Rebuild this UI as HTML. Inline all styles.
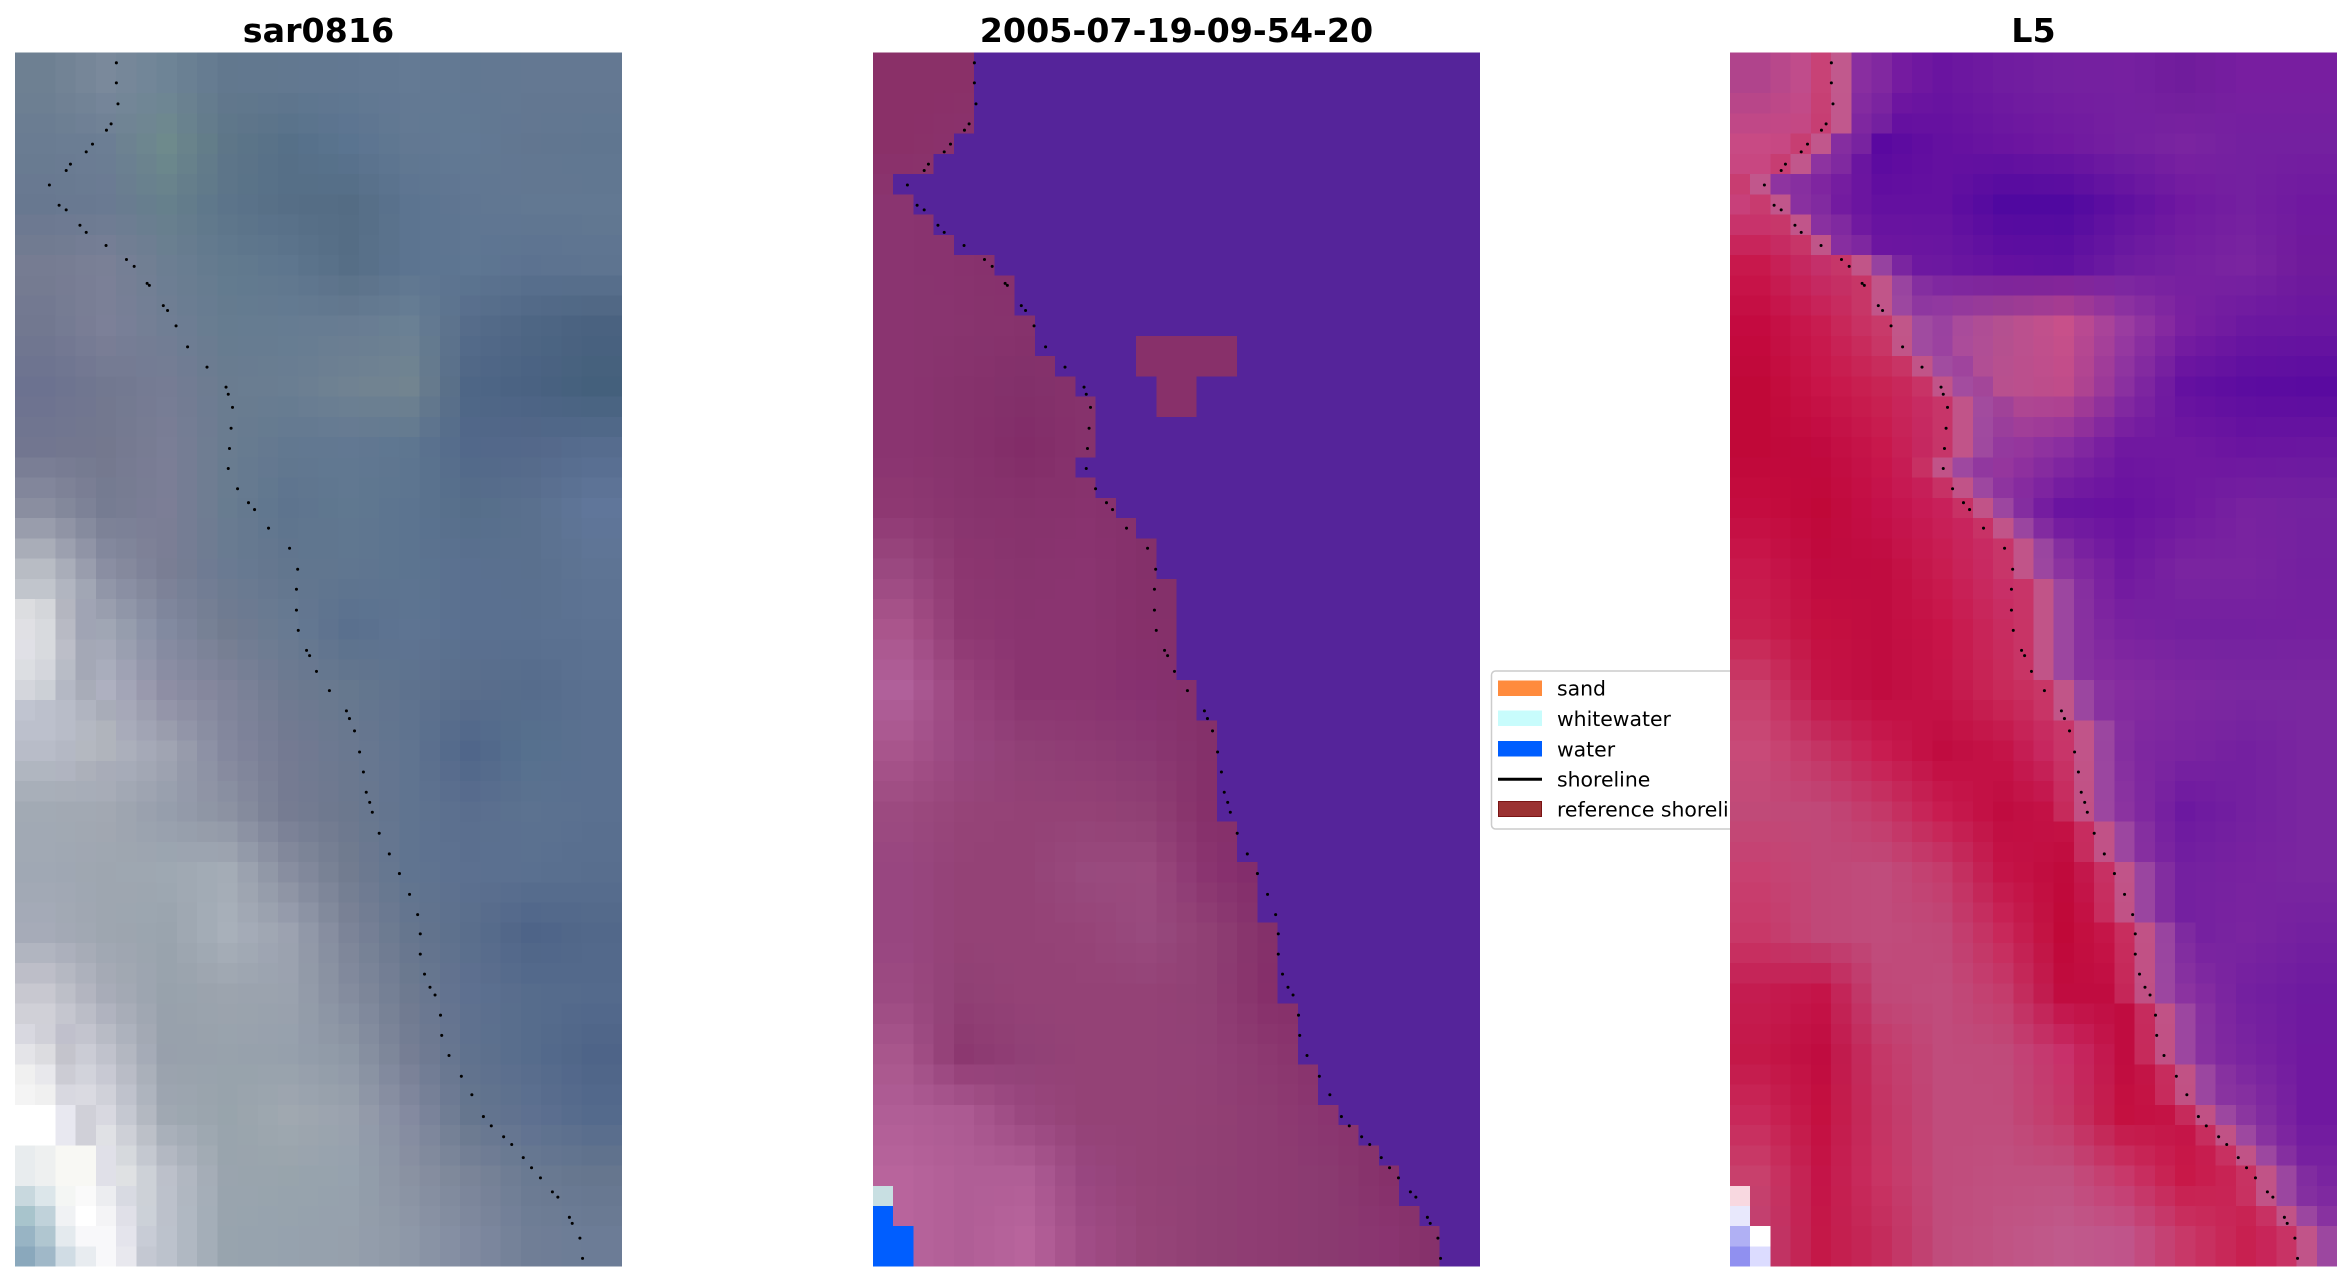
<!DOCTYPE html>
<html><head><meta charset="utf-8">
<style>
html,body{margin:0;padding:0;background:#fff;width:2352px;height:1283px;overflow:hidden}
svg{display:block}
text{font-family:"DejaVu Sans","Liberation Sans",sans-serif;fill:#000}
</style></head>
<body>
<svg id="s" width="2352" height="1283" viewBox="0 0 2352 1283" xmlns="http://www.w3.org/2000/svg">
<rect width="2352" height="1283" fill="#fff"/>
<text x="318.5" y="42" text-anchor="middle" font-size="33.3" font-weight="bold">sar0816</text>
<text x="1176.5" y="42" text-anchor="middle" font-size="33.3" font-weight="bold">2005-07-19-09-54-20</text>
<text x="2033.5" y="42" text-anchor="middle" font-size="33.3" font-weight="bold">L5</text>
<g>
<rect x="1491.5" y="671" width="320" height="158" rx="4" fill="#fff" stroke="#cccccc" stroke-width="1.5"/>
<rect x="1498" y="680.5" width="44" height="15.5" fill="#ff8b3d"/>
<rect x="1498" y="710.5" width="44" height="15.5" fill="#c8fcfc"/>
<rect x="1498" y="741" width="44" height="15.5" fill="#005eff"/>
<line x1="1498" y1="779.3" x2="1542" y2="779.3" stroke="#000" stroke-width="3"/>
<rect x="1498.5" y="801.5" width="43" height="15" fill="#9b3232" stroke="#7a1414" stroke-width="1"/>
<text x="1557" y="695.6" font-size="20.4">sand</text>
<text x="1557" y="726" font-size="20.4">whitewater</text>
<text x="1557" y="756.6" font-size="20.4">water</text>
<text x="1557" y="786.7" font-size="20.4">shoreline</text>
<text x="1557" y="816.7" font-size="20.4">reference shoreline</text>
</g>
<g id="p1" transform="translate(15,52.7) scale(20.2333)" shape-rendering="crispEdges"><rect width="30" height="60" fill="#6e7c92"/></g>
<g id="d1" transform="translate(15,52.7) scale(20.2333)"></g>
<g id="p2" transform="translate(873,52.7) scale(20.2333)" shape-rendering="crispEdges"><rect width="30" height="60" fill="#6a2c84"/></g>
<g id="d2" transform="translate(873,52.7) scale(20.2333)"></g>
<g id="p3" transform="translate(1730,52.7) scale(20.2333)" shape-rendering="crispEdges"><rect width="30" height="60" fill="#a43080"/></g>
<g id="d3" transform="translate(1730,52.7) scale(20.2333)"></g>
</svg>
<script>
(function(){
var NS="http://www.w3.org/2000/svg";
function h2r(h){return [parseInt(h.substr(1,2),16),parseInt(h.substr(3,2),16),parseInt(h.substr(5,2),16)];}
function r2h(a){return '#'+a.map(function(v){v=Math.max(0,Math.min(255,Math.round(v)));return (v<16?'0':'')+v.toString(16);}).join('');}
function mix(a,b,t){return [a[0]+(b[0]-a[0])*t,a[1]+(b[1]-a[1])*t,a[2]+(b[2]-a[2])*t];}
function parseGrid(rows,def){return rows.map(function(r){var a=r.trim().split(/\s+/).map(h2r);while(a.length<10)a.push(h2r(def));return a;});}
function sample(G,c,r){
 var gw=G[0].length,gh=G.length;
 var u=(c+0.5)/(30/gw)-0.5,v=(r+0.5)/(60/gh)-0.5;
 u=Math.max(0,Math.min(gw-1,u));v=Math.max(0,Math.min(gh-1,v));
 var i=Math.min(Math.floor(u),gw-2),j=Math.min(Math.floor(v),gh-2);
 var fu=u-i,fv=v-j,o=[0,0,0];
 for(var k=0;k<3;k++)o[k]=G[j][i][k]*(1-fu)*(1-fv)+G[j][i+1][k]*fu*(1-fv)+G[j+1][i][k]*(1-fu)*fv+G[j+1][i+1][k]*fu*fv;
 return o;
}
function rect(g,c,r,col){var e=document.createElementNS(NS,'rect');e.setAttribute('x',c);e.setAttribute('y',r);e.setAttribute('width',1);e.setAttribute('height',1);e.setAttribute('fill',col);g.appendChild(e);}

var G1=parseGrid([
"#6e8092 #7a899b #6e8496 #62788e #627890 #627892 #647a94 #627892 #647892 #647892",
"#6a7c92 #6c7e94 #6e8a8c #5e7688 #567088 #5a7490 #627892 #627994 #627690 #607690",
"#687890 #6a7a92 #66808c #5c748a #566e86 #546c84 #5c7490 #607692 #627892 #627892",
"#767c92 #7a8096 #6c7e92 #627a8e #5e768e #566e86 #5c7490 #5e7692 #5c7290 #5e7490",
"#727890 #7c8098 #707e94 #667c90 #667c92 #687c92 #6a8094 #566c8a #4e6684 #4a6280",
"#6c7290 #727890 #767c94 #6a7c90 #6a7e92 #708292 #728490 #4e6686 #4a6282 #44607c",
"#727690 #74788e #7a7e96 #6a7c90 #627890 #627892 #5e7690 #52688a #54688a #566c8e",
"#8a8ea0 #767c92 #7c7e96 #687c90 #5e748e #607890 #5c7490 #566e8a #5a708e #60769a",
"#b8bcc4 #8a8ea2 #7a7e94 #6a7a92 #62768e #607690 #5c7490 #5a7090 #5a708e #5e7494",
"#d4d6dc #a0a6b4 #828aa0 #727c90 #687a92 #5a708e #5e7492 #5a7090 #5a7090 #5c7292",
"#ccd0d8 #aeb0c0 #8e8ea4 #80849a #6e7a90 #66788e #5e728e #5a6e8c #566c8c #5a7090",
"#b4b8c4 #b0b4c0 #a0a4b2 #84889e #747a92 #6a7890 #607490 #50668a #56708e #5a7090",
"#a2aab4 #a2a8b2 #969eac #8c92a2 #767c92 #6c788e #607490 #5a6e8e #5c7290 #5a7090",
"#a0a8b4 #9ea6b0 #9ea8b2 #a4acb6 #888ea0 #727c90 #607490 #5c7090 #5a7090 #586e8e",
"#a6abb8 #9ea6b0 #9aa4ae #a8b0ba #9ca2b0 #7c8498 #66768e #5a6e8c #4e6488 #52688a",
"#c8c8d0 #a8acb8 #98a2ac #9ca4ae #9aa2ae #848c9e #6e7a90 #5e7090 #566c8c #546a8c",
"#e0e0e6 #c0c2cc #98a0ac #98a2ac #96a0ac #8e98a6 #767e94 #60728e #566c8c #4e6488",
"#f4f4f6 #d8d8e0 #a0a8b2 #98a4ac #a0a8b0 #9aa2ae #848aa0 #66768e #5e7090 #546a8c",
"#e4eaee #f0f2f0 #bcc0ca #9aa4ae #98a4ac #96a2ae #8a92a2 #7a8498 #6a7a92 #66768e",
"#b0c4d0 #eceff2 #bcc2cc #98a4ae #96a2ae #96a0ac #8e98a8 #808aa0 #707e96 #6c7c96"
],"#647892");

var G2=parseGrid([
"#8a3068 #8a3068 #88306a #88306a",
"#8a3068 #8a326c #86306a #86306a",
"#8a3470 #88326e #86306a #86306a",
"#8a3470 #88326e #86306c #84306a",
"#8a3470 #88346e #86326c #86306a #84306a",
"#8a3470 #86326c #82306a #86326c #82306a",
"#8a3470 #86326c #822c68 #86326c #84306a",
"#8e3872 #88346e #86326c #88326e #84306a",
"#9a4880 #8c3670 #88346e #8a3470 #84306a #82306a",
"#aa558c #8e3872 #8a3470 #8a3470 #86306a #82306a",
"#b0609a #98427c #8a3470 #8a3470 #863070 #84306a",
"#a8558c #984680 #904076 #8e3c74 #8a3872 #84306a",
"#9c4a80 #964478 #944276 #944276 #904074 #86306a",
"#984680 #944276 #944276 #984a7e #9a4a7e #8a3470 #80296a",
"#984680 #944276 #944276 #964478 #984a7e #904074 #84306a",
"#9c4a82 #904074 #944276 #944276 #944276 #904074 #862f6a",
"#a8568c #8c3870 #904076 #944276 #944276 #924076 #8c3870 #86306a",
"#b05e96 #ac5a92 #9a4880 #944276 #944276 #924074 #8e3c72 #8a3470 #86306a",
"#b8649c #b05e96 #b05e96 #984680 #944276 #904074 #8e3c72 #8a3a70 #86306a #843068",
"#b8649c #b05e96 #b8649c #a04c86 #964478 #904074 #8e3c72 #8a3a70 #8a3470 #843068"
],"#86306a");

var G3L=parseGrid([
"#b0448c #c8508a #c05088",
"#c84a84 #c44480 #c04c86",
"#c8407a #c0407a #c04478",
"#c8184c #c4306a #c43868",
"#c40a40 #c81c50 #c83c6c #c83c6c",
"#c00838 #c81448 #c82454 #c8306a",
"#c00838 #c00a40 #c8184c #c4306a #c8306a",
"#c40c40 #c00838 #c4104a #c8205a #c8306a",
"#c8184c #c00a40 #c00c40 #c81c50 #c8306a",
"#c82050 #c41040 #c00c40 #c81448 #c82c60 #c8306a",
"#c8406c #c41448 #c00c40 #c41448 #c82a5a #c83868",
"#c84a78 #c43464 #c81c50 #c00c40 #c41448 #c8306a",
"#c04a78 #c04878 #c43868 #c81c50 #c00c40 #c41448 #c8306a",
"#c84070 #c04878 #c04c7c #c43c6c #c41448 #c00a3c #c8306a",
"#c83868 #c04878 #c04c7c #c04878 #c8285a #c00838 #c81c50 #c8306a",
"#c41c50 #c41448 #c04878 #c04c7c #c43c6c #c00c40 #c00c40 #c8306a",
"#c41848 #c00c40 #c43868 #c04c7c #c04a7a #c8306a #c00c40 #c82858",
"#c8285a #c41040 #c43464 #c04c7c #c04c7c #c43868 #c41040 #c41448 #c83060",
"#c8406c #c41448 #c83464 #c04c7c #c05080 #c05080 #c8386a #c81848 #c8285a",
"#c04070 #c41848 #c42c5c #c04c7c #c05484 #c05a8c #c0548a #c83868 #c82050 #c8306a"
],"#c8306a");

var G3W=parseGrid([
"#8a2ea0 #8a2ea0 #7a1ea0 #6a14a0 #701ca0 #7420a0 #7620a0 #701c9c #781ea0 #781ea0",
"#8a2ea0 #8a2ea0 #5a08a0 #6410a0 #6a14a0 #7018a0 #7420a0 #7a24a0 #7420a0 #7420a0",
"#8a30a0 #7a20a0 #6410a0 #6410a0 #5008a0 #5008a0 #6010a0 #7018a0 #7420a0 #7018a0",
"#9a40a0 #8a30a0 #7018a0 #6c18a0 #6410a0 #6010a0 #6e1ca0 #7620a0 #7a24a0 #701a9c",
"#9a40a0 #9a40a0 #9a40a0 #a448a0 #b45090 #c8508a #9a3ca0 #7a20a0 #6c18a0 #6a16a0",
"#9a40a0 #9a40a0 #9a40a0 #a84ca0 #b8508e #c04c8a #8a30a0 #6410a0 #5c0ca0 #5a0aa0",
"#9a40a0 #9a40a0 #9a40a0 #9a40a0 #9a3a9c #8a2ea0 #7018a0 #7018a0 #6a14a0 #6a16a0",
"#8a30a0 #8a30a0 #8a30a0 #8a30a0 #8a2ea0 #6a14a0 #6810a0 #7018a0 #7822a0 #7422a0",
"#8a30a0 #8a30a0 #8a30a0 #8a30a0 #8a30a0 #8a30a0 #7018a0 #7a24a0 #7a24a0 #7420a0",
"#8a30a0 #8a30a0 #8a30a0 #8a30a0 #8a30a0 #8a30a0 #7a22a0 #7420a0 #7420a0 #7620a0",
"#8a30a0 #8a30a0 #8a30a0 #8a30a0 #8a30a0 #8a30a0 #862ca0 #7e28a0 #7a28a0 #7a28a0",
"#8a30a0 #8a30a0 #8a30a0 #8a30a0 #8a30a0 #8a30a0 #8028a0 #7a24a0 #7420a0 #7a26a0",
"#8a30a0 #8a30a0 #8a30a0 #8a30a0 #8a30a0 #8a30a0 #8a30a0 #6c18a0 #7420a0 #7a26a0",
"#8a30a0 #8a30a0 #8a30a0 #8a30a0 #8a30a0 #8a30a0 #8a30a0 #7420a0 #7822a0 #7a26a0",
"#8a30a0 #8a30a0 #8a30a0 #8a30a0 #8a30a0 #8a30a0 #8a30a0 #7420a0 #7a24a0 #7420a0",
"#8a30a0 #8a30a0 #8a30a0 #8a30a0 #8a30a0 #8a30a0 #8a30a0 #8a30a0 #7420a0 #6e1aa0",
"#8a30a0 #8a30a0 #8a30a0 #8a30a0 #8a30a0 #8a30a0 #8a30a0 #8a30a0 #7a24a0 #7018a0",
"#8a30a0 #8a30a0 #8a30a0 #8a30a0 #8a30a0 #8a30a0 #8a30a0 #8a30a0 #8a34a0 #7018a0",
"#8a30a0 #8a30a0 #8a30a0 #8a30a0 #8a30a0 #8a30a0 #8a30a0 #8a30a0 #9a40a0 #7a24a0",
"#8a30a0 #8a30a0 #8a30a0 #8a30a0 #8a30a0 #8a30a0 #8a30a0 #8a30a0 #8a30a0 #8a34a0"
],"#8a30a0");

var B=[5,5,5,5,4,3,1,2,3,4,6,7,7,8,8,9,10,11,11,11,10,11,12,13,14,14,15,15,15,15,
15,16,16,17,17,17,17,17,18,18,19,19,19,20,20,20,20,21,21,21,22,22,23,24,25,26,26,27,28,28];

var WATER="#55249a";
var p1=document.getElementById('p1'),p2=document.getElementById('p2'),p3=document.getElementById('p3');
var cA=h2r('#c83868'),cB=h2r('#c05a8e'),cC=h2r('#a04ca0'),cC0=h2r('#a048a0'),cD=h2r('#8c38a0');
for(var r=0;r<60;r++){
 for(var c=0;c<30;c++){
  rect(p1,c,r,r2h(sample(G1,c,r)));
  var col2;
  var blob=((r==14||r==15)&&c>=13&&c<=17)||((r==16||r==17)&&(c==14||c==15));
  if(c>=B[r]&&!blob) col2=WATER;
  else if(blob) col2='#88306a';
  else col2=r2h(sample(G2,c,r));
  rect(p2,c,r,col2);
  var d=c-B[r],b3;
  if(d<=-2) b3=sample(G3L,c,r);
  else if(d==-1) b3=mix(sample(G3L,c,r),cA,0.6);
  else if(d==0) b3=mix(cB,sample(G3L,c,r),0.15);
  else if(d==1) b3=(r<10)?mix(sample(G3W,c,r),cC0,0.3):mix(sample(G3W,c,r),cC,0.8);
  else if(d==2) b3=mix(sample(G3W,c,r),cD,0.4);
  else b3=sample(G3W,c,r);
  rect(p3,c,r,r2h(b3));
 }
}
rect(p2,0,56,'#c8dfe2');rect(p2,0,57,'#005eff');rect(p2,0,58,'#005eff');rect(p2,0,59,'#005eff');rect(p2,1,58,'#005eff');rect(p2,1,59,'#005eff');
rect(p3,0,56,'#f8d8e0');rect(p3,0,57,'#e8e8fc');rect(p3,0,58,'#b0b0f4');rect(p3,0,59,'#9090f0');rect(p3,1,58,'#ffffff');rect(p3,1,59,'#dcdcff');

var ov={
27:['#dcdde0','#d4d6da','#b4b6c0','#a0a4b4'],
28:['#e0e0e4','#d8dade','#b8bac4','#a0a4b4'],
29:['#e0e0e6','#d8dade','#bcbec8','#a4a8b6'],
30:['#dcdee2','#d4d6dc','#b8bcc6','#a4a8b6'],
31:['#d4d6dc','#ccd0d6','#b4b8c4','#a8acb8'],
32:['#c0c4d0','#bcc0cc','#b8bcc8','#b0b4c0','#a8acb8'],
33:['#bcc0cc','#bcc0cc','#b8bcc8','#b4b8c2','#b0b4bc'],
34:['#b8bcc8','#b8bcc8','#b4b8c4','#b4b8c0','#b0b4bc'],
35:['#b0b6c0','#b0b6c0','#b0b4c0','#acb0ba','#a8acb8'],
48:['#d8d8e0','#d0d0d8','#c0c0cc'],
49:['#e4e4e8','#dcdce0','#c4c4cc'],
50:['#f0f0f0','#e8e8ec','#ccccd4'],
51:['#f4f4f4','#f0f0f0','#d8d8e0'],
52:['#ffffff','#ffffff','#e8e8f0','#d0d0d8'],
53:['#ffffff','#ffffff','#e8e8f0','#d0d0d8'],
54:['#e8ecee','#eef0f0','#f8f8f4','#f8f8f4','#e0e0e8'],
55:['#e8ecee','#eef0f0','#f8f8f4','#f8f8f4','#e0e0e8'],
56:['#c8d8de','#dce6ea','#f4f6f4','#fafafa','#ecedf0','#d8dae2'],
57:['#a8c4cc','#c0d2da','#f0f2f4','#ffffff','#f4f4f6','#e0e0e8'],
58:['#98b4c4','#b0c6d0','#e4eaee','#f8f8fa','#f8f8fa','#e4e4ec','#c8ccd6'],
59:['#8aa8bc','#a0b8c8','#d0dce4','#e8ecf0','#f8f8fa','#e8e8ee','#c4c8d2']
};
for(var k in ov){ov[k].forEach(function(col,ci){rect(p1,ci,+k,col);});}

var dots=[[5.01,0.5],[5.01,1.49],[5.09,2.53],[4.75,3.52],[4.52,3.83],[3.83,4.52],[3.52,4.9],[2.74,5.51],[2.53,5.82],[1.70,6.54],[2.18,7.54],[2.53,7.77],[3.21,8.53],[3.52,8.88],[4.5,9.53],[5.51,10.22],[5.89,10.56],[6.53,11.4],[6.64,11.5],[7.33,12.5],[7.54,12.74],[7.96,13.5],[8.53,14.54],[9.49,15.54],[10.43,16.53],[10.54,16.88],[10.75,17.53],[10.68,18.56],[10.6,19.56],[10.54,20.55],[11.0,21.55],[11.54,22.24],[11.84,22.58],[12.53,23.5],[13.57,24.49],[13.97,25.53],[13.91,26.52],[13.91,27.55],[14.0,28.55],[14.41,29.54],[14.56,29.8],[14.9,30.58],[15.54,31.53],[16.38,32.53],[16.53,32.91],[16.78,33.52],[17.03,34.56],[17.22,35.55],[17.36,36.55],[17.53,37.05],[17.66,37.54],[18.0,38.58],[18.5,39.6],[19.0,40.57],[19.5,41.6],[19.9,42.6],[20.03,43.55],[20.03,44.55],[20.24,45.54],[20.51,46.19],[20.76,46.57],[21.03,47.57],[21.09,48.57],[21.45,49.56],[22.06,50.59],[22.58,51.5],[23.15,52.58],[23.54,53.04],[24.15,53.58],[24.55,53.96],[25.12,54.61],[25.53,55.11],[25.97,55.61],[26.56,56.3],[26.83,56.56],[27.4,57.56],[27.54,57.86],[27.92,58.59],[28.05,59.59]];
['d1','d2','d3'].forEach(function(id){
 var g=document.getElementById(id);
 dots.forEach(function(p){var e=document.createElementNS(NS,'circle');e.setAttribute('cx',p[0]);e.setAttribute('cy',p[1]);e.setAttribute('r',0.075);e.setAttribute('fill','#000');g.appendChild(e);});
});
})();
</script>
</body></html>
